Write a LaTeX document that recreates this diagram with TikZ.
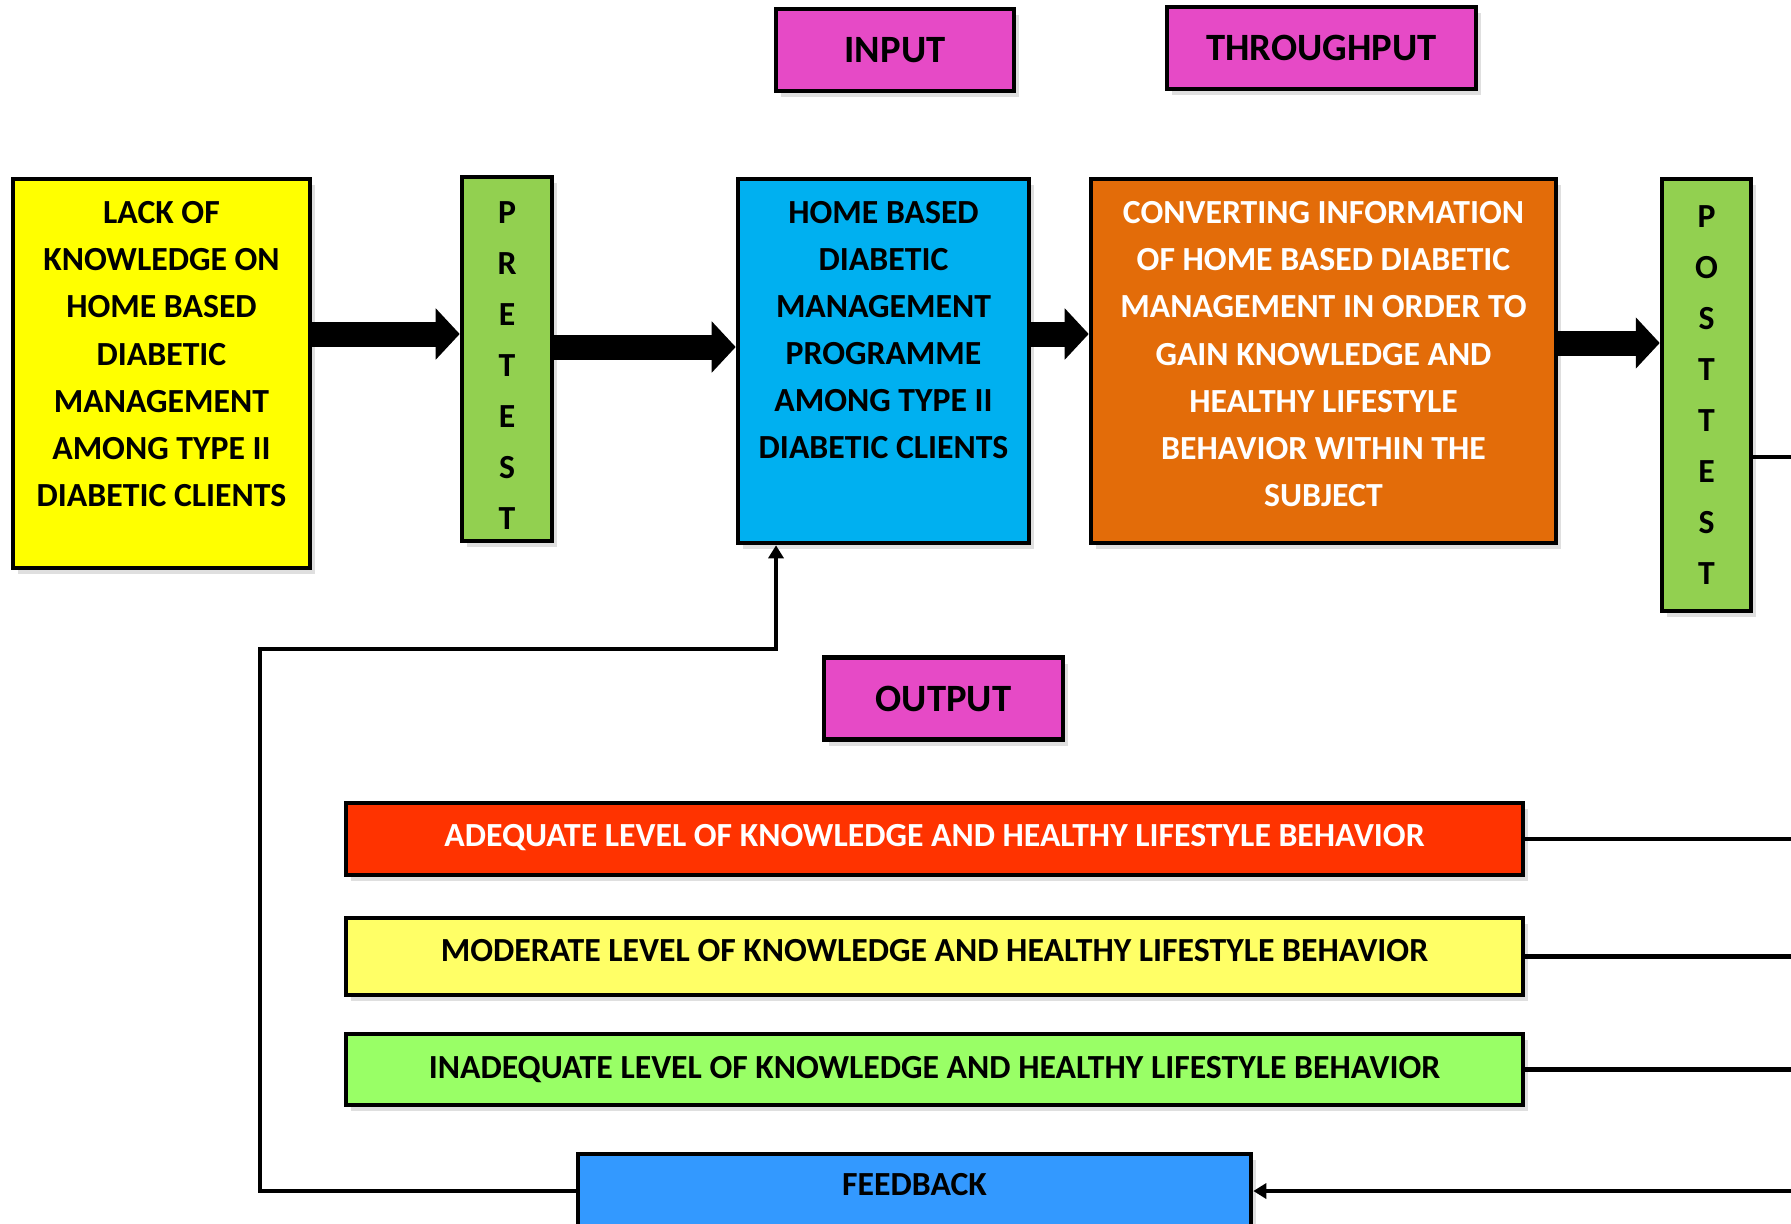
\documentclass[tikz,border=0pt]{standalone}
\usepackage{fontspec}
\setmainfont{Carlito}
\usetikzlibrary{arrows.meta, positioning, shadows}
\definecolor{lackyel}{HTML}{FFFF00}
\definecolor{testgreen}{HTML}{92D050}
\definecolor{progblue}{HTML}{00B0F0}
\definecolor{convorange}{HTML}{E36C09}
\definecolor{titlepink}{HTML}{E64AC6}
\definecolor{adeqred}{HTML}{FF3300}
\definecolor{modyel}{HTML}{FFFF66}
\definecolor{inadgreen}{HTML}{99FF66}
\definecolor{fbblue}{HTML}{3399FF}

\begin{document}
\begin{tikzpicture}[
    every node/.style={font=\bfseries\fontsize{9.6}{13.4}\selectfont},
    box/.style={draw, line width=1.3pt, align=center, inner sep=0pt,
        drop shadow={shadow xshift=0.5mm, shadow yshift=-0.6mm, opacity=0.25}},
    title/.style={box, fill=titlepink, minimum width=#1, minimum height=0.82cm,
        font=\bfseries\fontsize{11}{12}\selectfont},
    bar/.style={box, minimum width=11.77cm},
    tall/.style={box, fill=testgreen, minimum width=0.9cm,
        font=\bfseries\fontsize{9.6}{14.5}\selectfont},
    bigarr/.style={-{Triangle[length=2.4mm, width=5mm]}, line width=2.5mm},
    conn/.style={line width=1.2pt},
    arr/.style={conn, -{Triangle[length=1.3mm, width=1.5mm]}}
]
    \useasboundingbox (0,0) rectangle (17.91,12.23);

    % headings
    \node[title=2.38cm] (inp)  at (8.95,11.73)   {INPUT};
    \node[title=3.09cm] (thru) at (13.215,11.75) {THROUGHPUT};

    % top row
    \node[box, fill=lackyel, minimum width=2.97cm, minimum height=3.89cm, text depth=3.9mm]
        (lack) at (1.615,8.495)
        {LACK OF\\KNOWLEDGE ON\\HOME BASED\\DIABETIC\\MANAGEMENT\\AMONG TYPE II\\DIABETIC CLIENTS};
    \node[tall, minimum height=3.64cm, text height=97pt] (pre) at (5.07,8.64) {P\\R\\E\\T\\E\\S\\T};
    \node[box, fill=progblue, minimum width=2.91cm, minimum height=3.64cm, text depth=6.2mm]
        (prog) at (8.835,8.62)
        {HOME BASED\\DIABETIC\\MANAGEMENT\\PROGRAMME\\AMONG TYPE II\\DIABETIC CLIENTS};
    \node[box, fill=convorange, text=white, minimum width=4.65cm, minimum height=3.64cm, text depth=1.4mm]
        (conv) at (13.235,8.62)
        {CONVERTING INFORMATION\\OF HOME BASED DIABETIC\\MANAGEMENT IN ORDER TO\\GAIN KNOWLEDGE AND\\HEALTHY LIFESTYLE\\BEHAVIOR WITHIN THE\\SUBJECT};
    \node[tall, minimum width=0.89cm, minimum height=4.32cm] (post) at (17.065,8.28)
        {P\\O\\S\\T\\T\\E\\S\\T};

    % output levels
    \node[title=2.39cm] (outp) at (9.435,5.245) {OUTPUT};
    \node[bar, fill=adeqred, text=white, minimum height=0.72cm, text depth=0.8mm] (adeq) at (9.345,3.84)
        {ADEQUATE LEVEL OF KNOWLEDGE AND HEALTHY LIFESTYLE BEHAVIOR};
    \node[bar, fill=modyel, minimum height=0.77cm, text depth=1.2mm] (mod) at (9.345,2.665)
        {MODERATE LEVEL OF KNOWLEDGE AND HEALTHY LIFESTYLE BEHAVIOR};
    \node[bar, fill=inadgreen, minimum height=0.71cm, text depth=0.5mm] (inad) at (9.345,1.535)
        {INADEQUATE LEVEL OF KNOWLEDGE AND HEALTHY LIFESTYLE BEHAVIOR};
    \node[box, fill=fbblue, minimum width=6.73cm, minimum height=0.74cm, text depth=1.4mm]
        (fb) at (9.145,0.32) {FEEDBACK};

    % block arrows
    \coordinate (a1) at ([yshift=3.95mm]lack.east);
    \coordinate (a2) at ([yshift=1.2mm]pre.east);
    \coordinate (a3) at ([yshift=2.7mm]prog.east);
    \coordinate (a4) at ([yshift=1.8mm]conv.east);
    \draw[bigarr] (a1) -- (a1 -| pre.west);
    \draw[bigarr] (a2) -- (a2 -| prog.west);
    \draw[bigarr] (a3) -- (a3 -| conv.west);
    \draw[bigarr] (a4) -- (a4 -| post.west);

    % feedback loop
    \coordinate (edge) at (18,0);
    \coordinate (turn) at (2.60,5.74);
    \coordinate (fbin) at ([xshift=-10.75mm]prog.south);
    \coordinate (p1) at ([yshift=-6.2mm]post.east);
    \draw[arr] (fb.west) -| (turn) -| (fbin);
    \draw[conn] (p1) -- (p1 -| edge);
    \foreach \n in {adeq, mod, inad}
        \draw[conn] (\n.east) -- (\n.east -| edge);
    \draw[arr] (fb.east -| edge) -- (fb.east);
\end{tikzpicture}
\end{document}
